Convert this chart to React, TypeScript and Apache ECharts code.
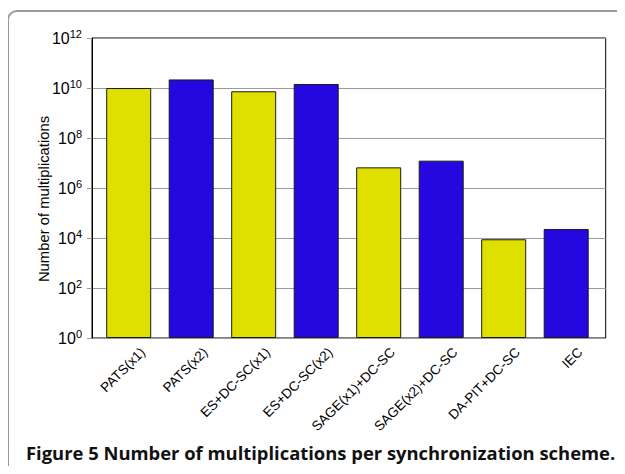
import React, { useEffect, useRef } from "react";
import * as echarts from "echarts";

// Schemes compared, in drawing order
const schemes = [
  "PATS(x1)",
  "PATS(x2)",
  "ES+DC-SC(x1)",
  "ES+DC-SC(x2)",
  "SAGE(x1)+DC-SC",
  "SAGE(x2)+DC-SC",
  "DA-PIT+DC-SC",
  "IEC",
];

// Number of multiplications per scheme
const multiplications = [1.0e10, 2.2e10, 7.4e9, 1.45e10, 6.7e6, 1.24e7, 8.9e3, 2.3e4];

// Single-antenna schemes are yellow, dual-antenna ones blue
const barColors = ["#e0e000", "#2507e0", "#e0e000", "#2507e0", "#e0e000", "#2507e0", "#e0e000", "#2507e0"];

const yMin = 1;
const yMax = 1e12;

const caption = "Figure 5 Number of multiplications per synchronization scheme.";
const yTitle = "Number of multiplications";

const FONT = "'Liberation Sans', Arial, sans-serif";

export default function App() {
  const ref = useRef<HTMLDivElement | null>(null);

  useEffect(() => {
    if (!ref.current) return;
    const chart = echarts.init(ref.current, null, { renderer: "svg" });

    const plotTop = 38;
    const plotH = 300;

    chart.setOption({
      animation: false,
      backgroundColor: "#ffffff",
      grid: [
        // frame with gridlines and the value axis
        { left: 92, top: plotTop, width: 513.7, height: plotH, show: true, borderColor: "#000", borderWidth: 1, containLabel: false },
        // bars
        { left: 97.45, top: plotTop, width: 500, height: plotH, containLabel: false },
        // rotated category labels
        { left: 111.5, top: plotTop, width: 500, height: plotH, containLabel: false },
      ],
      xAxis: [
        { type: "value", gridIndex: 0, min: 0, max: 1, show: false },
        {
          type: "category",
          gridIndex: 1,
          data: schemes,
          axisLine: { show: false },
          axisTick: { show: false },
          axisLabel: { show: false },
        },
        {
          type: "category",
          gridIndex: 2,
          data: schemes,
          axisLine: { show: false },
          axisTick: { show: false },
          axisLabel: {
            show: true,
            rotate: 45,
            interval: 0,
            margin: 12,
            fontSize: 13.5,
            fontFamily: FONT,
            color: "#000",
          },
        },
      ],
      yAxis: [
        {
          type: "log",
          gridIndex: 0,
          logBase: 100,
          min: yMin,
          max: yMax,
          axisLine: { show: true, lineStyle: { color: "#000", width: 1 } },
          axisTick: { show: true, length: 5, lineStyle: { color: "#999" } },
          splitLine: { show: true, lineStyle: { color: "#9a9a9a", width: 1 } },
          axisLabel: {
            margin: 10,
            formatter: (v: number) => `{b|10}{s|${Math.round(Math.log10(v))}}`,
            rich: {
              b: { fontSize: 16, fontFamily: FONT, color: "#000" },
              s: { fontSize: 11, fontFamily: FONT, color: "#000", padding: [0, 0, 9, 0] },
            },
          },
        },
        { type: "log", gridIndex: 1, logBase: 100, min: yMin, max: yMax, show: false },
        { type: "value", gridIndex: 2, min: 0, max: 1, show: false },
      ],
      series: [
        {
          type: "bar",
          xAxisIndex: 1,
          yAxisIndex: 1,
          barWidth: 45,
          data: multiplications.map((v, i) => ({
            value: v,
            itemStyle: { color: barColors[i], borderColor: "#1a1a1a", borderWidth: 1 },
          })),
        },
      ],
      graphic: [
        {
          type: "rect",
          shape: { x: 8, y: 11, width: 700, height: 600, r: 9 },
          style: { fill: "none", stroke: "#9a9a9a", lineWidth: 2 },
          silent: true,
        },
        {
          type: "text",
          x: 44,
          y: 199,
          rotation: Math.PI / 2,
          style: {
            text: yTitle,
            fontSize: 14.8,
            fontFamily: FONT,
            fill: "#000",
            align: "center",
            verticalAlign: "middle",
          },
        },
        {
          type: "text",
          x: 26,
          y: 452,
          style: {
            text: caption,
            fontSize: 18.4,
            fontWeight: "bold",
            fontFamily: "'Open Sans', 'Noto Sans', sans-serif",
            fill: "#111",
            align: "left",
            verticalAlign: "middle",
          },
        },
      ],
    });

    return () => chart.dispose();
  }, []);

  return <div ref={ref} style={{ width: 625, height: 474, margin: -8 }} />;
}
